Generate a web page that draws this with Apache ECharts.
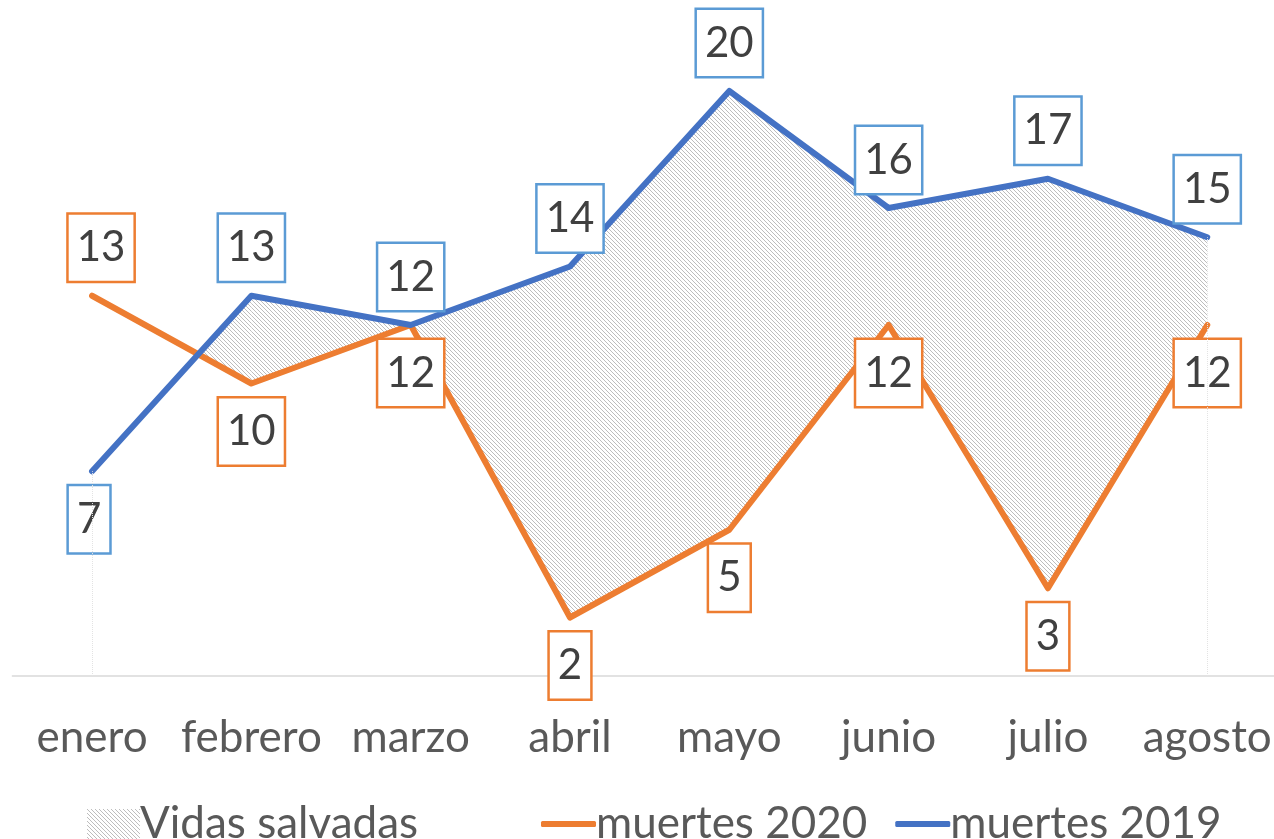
<!DOCTYPE html>
<html>
<head>
<meta charset="utf-8">
<script src="https://cdn.jsdelivr.net/npm/echarts@6/dist/echarts.min.js"></script>
<style>
html,body{margin:0;padding:0;background:#fff;overflow:hidden;width:1274px;height:839px;}
#chart{width:1290px;height:839px;}
</style>
</head>
<body>
<div id="chart"></div>
<script>
// ---- data ----
const categories = ['enero','febrero','marzo','abril','mayo','junio','julio','agosto'];
const muertes2020 = [13, 10, 12, 2, 5, 12, 3, 12];
const muertes2019 = [7, 13, 12, 14, 20, 16, 17, 15];
const areaName = 'Vidas salvadas';
const name2020 = 'muertes 2020';
const name2019 = 'muertes 2019';

// ---- hatch pattern ----
function makeHatch() {
  const c = document.createElement('canvas');
  c.width = 4; c.height = 4;
  const ctx = c.getContext('2d');
  ctx.fillStyle = '#ffffff';
  ctx.fillRect(0, 0, 4, 4);
  ctx.fillStyle = '#bdbdbd';
  for (let k = 0; k < 4; k++) ctx.fillRect(k, k, 1, 1);
  return c;
}
const hatch = { image: makeHatch(), repeat: 'repeat' };

const FONT = 'Lato';
const ORANGE = '#ED7D31';
const BLUE = '#4472C4';
const BLUE_BOX = '#5B9BD5';

const chart = echarts.init(document.getElementById('chart'), null, { renderer: 'canvas' });

function labelBase(border, pos) {
  return {
    show: true,
    position: pos,
    distance: 14,
    formatter: '{c}',
    fontFamily: FONT,
    fontSize: 42,
    color: '#404040',
    backgroundColor: '#ffffff',
    borderColor: border,
    borderWidth: 2.5,
    padding: [12, 8, 12, 8]
  };
}

const option = {
  animation: false,
  backgroundColor: '#ffffff',
  grid: { left: 12.4, right: 3.1, top: 91, bottom: 163, containLabel: false },
  xAxis: {
    type: 'category',
    data: categories,
    boundaryGap: true,
    axisLine: { show: true, lineStyle: { color: '#d9d9d9', width: 1.5 } },
    axisTick: { show: false },
    axisLabel: { color: '#595959', fontFamily: FONT, fontSize: 44, margin: 40, interval: 0 },
    splitLine: { show: false }
  },
  yAxis: {
    type: 'value', min: 0, max: 20,
    show: false,
    splitLine: { show: false }
  },
  legend: [
    {
      data: [{ name: areaName, icon: 'rect' }],
      left: 82, top: 797,
      itemWidth: 53, itemHeight: 30,
      textStyle: { color: '#595959', fontFamily: FONT, fontSize: 44, padding: [0, 0, 0, -5] }
    },
    {
      data: [{ name: name2020, icon: 'roundRect' }, { name: name2019, icon: 'roundRect' }],
      left: 536, top: 797,
      itemWidth: 55, itemHeight: 6, itemGap: 28,
      textStyle: { color: '#595959', fontFamily: FONT, fontSize: 44, padding: [0, 0, 0, -5] }
    }
  ],
  series: [
    {
      name: areaName,
      type: 'custom',
      z: 1,
      itemStyle: { color: hatch },
      data: categories.map((c, i) => [i]),
      renderItem: function (params, api) {
        const i = api.value(0);
        if (i >= categories.length - 1) return null;
        const a0 = muertes2020[i], b0 = muertes2019[i];
        const a1 = muertes2020[i + 1], b1 = muertes2019[i + 1];
        const d0 = b0 - a0, d1 = b1 - a1;
        const A0 = api.coord([i, a0]), B0 = api.coord([i, b0]);
        const A1 = api.coord([i + 1, a1]), B1 = api.coord([i + 1, b1]);
        let pts = null;
        if (d0 >= 0 && d1 >= 0) {
          pts = [B0, B1, A1, A0];
        } else if (d0 > 0 && d1 < 0) {
          const t = d0 / (d0 - d1);
          const C = [A0[0] + (A1[0] - A0[0]) * t, A0[1] + (A1[1] - A0[1]) * t];
          pts = [B0, C, A0];
        } else if (d0 < 0 && d1 > 0) {
          const t = d0 / (d0 - d1);
          const C = [A0[0] + (A1[0] - A0[0]) * t, A0[1] + (A1[1] - A0[1]) * t];
          pts = [C, B1, A1];
        }
        if (!pts) return null;
        return {
          type: 'polygon',
          shape: { points: pts },
          style: { fill: hatch, stroke: null }
        };
      }
    },
    {
      name: name2020,
      type: 'line',
      z: 3,
      data: muertes2020.map((v, i) => i === 0
        ? { value: v, label: { position: 'top', offset: [9, 0] } }
        : v),
      symbol: 'circle',
      symbolSize: 2,
      itemStyle: { color: ORANGE },
      lineStyle: { color: ORANGE, width: 6, cap: 'round', join: 'round' },
      label: labelBase(ORANGE, 'bottom'),
      clip: false
    },
    {
      name: name2019,
      type: 'line',
      z: 4,
      data: muertes2019.map((v, i) => i === 0
        ? { value: v, label: { position: 'bottom', offset: [-3, 0] } }
        : v),
      symbol: 'circle',
      symbolSize: 2,
      itemStyle: { color: BLUE },
      lineStyle: { color: BLUE, width: 6, cap: 'round', join: 'round' },
      label: labelBase(BLUE_BOX, 'top'),
      clip: false,
      markLine: {
        silent: true,
        symbol: 'none',
        label: { show: false },
        lineStyle: { color: '#e3e3e3', type: 'dotted', width: 1 },
        data: [
          [{ coord: [categories[0], 0] }, { coord: [categories[0], muertes2019[0]] }],
          [{ coord: [categories[7], 0] }, { coord: [categories[7], muertes2019[7]] }]
        ]
      }
    }
  ]
};
chart.setOption(option);
</script>
</body>
</html>
